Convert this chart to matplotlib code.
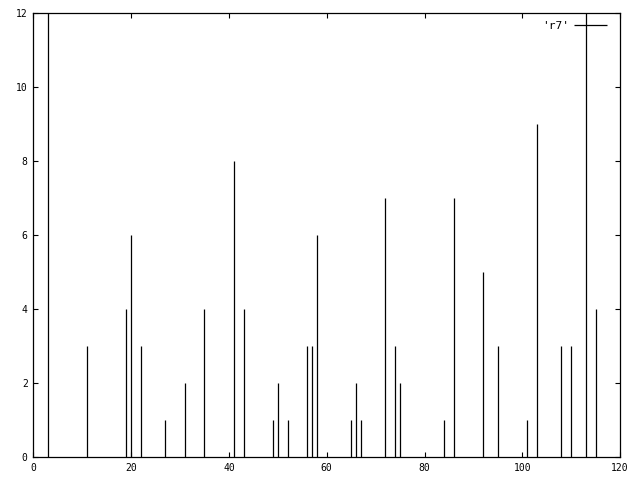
import matplotlib
matplotlib.use('Agg')
import matplotlib.pyplot as plt

# 数据 (impulses)
xs = [3, 11, 19, 20, 22, 27, 31, 35, 41, 43, 49, 50, 52, 56, 57, 58,
      65, 66, 67, 72, 74, 75, 84, 86, 92, 95, 101, 103, 108, 110, 113, 115]
ys = [12, 3, 4, 6, 3, 1, 2, 4, 8, 4, 1, 2, 1, 3, 3, 6,
      1, 2, 1, 7, 3, 2, 1, 7, 5, 3, 1, 9, 3, 3, 12, 4]
xticks = [0, 20, 40, 60, 80, 100, 120]
yticks = [0, 2, 4, 6, 8, 10, 12]

plt.rcParams['font.family'] = ['DejaVu Sans Mono']

fig = plt.figure(figsize=(6.4, 4.8), dpi=100)
ax = fig.add_axes([0.052, 0.048, 0.917, 0.924])

ax.vlines(xs, 0, ys, colors='black', linewidth=0.9, label="'r7'")

ax.set_xlim(0, 120)
ax.set_ylim(0, 12)
ax.set_xticks(xticks)
ax.set_yticks(yticks)
ax.tick_params(direction='in', length=3.6, width=0.8, labelsize=7,
               top=True, right=True, pad=4)
for s in ax.spines.values():
    s.set_linewidth(0.9)

ax.legend(loc='upper right', bbox_to_anchor=(0.985, 0.993), frameon=False,
          markerfirst=False, handlelength=3.0, handletextpad=0.4,
          fontsize=8, borderaxespad=0)

fig.savefig('out.png', dpi=100)
